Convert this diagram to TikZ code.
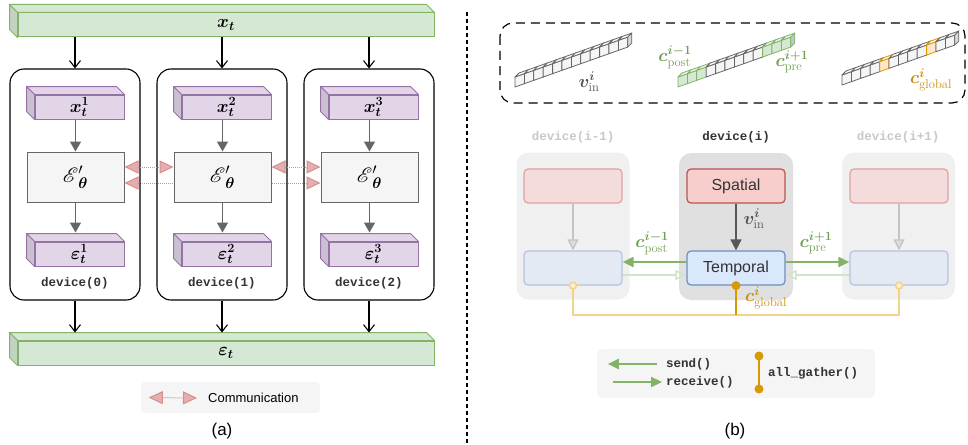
\RequirePackage{fix-cm}
\documentclass[tikz,border=0pt]{standalone}
\usepackage{amsmath}
\usepackage{bm}
\usepackage{mathrsfs}
\usepackage{fontspec}
\setsansfont{Liberation Sans}
\setmonofont{Liberation Mono}
\usetikzlibrary{arrows.meta,positioning}

\definecolor{barfill}{HTML}{D5E8D4}
\definecolor{barline}{HTML}{82B366}
\definecolor{barside}{HTML}{C2D4C1}
\definecolor{latfill}{HTML}{E1D5E7}
\definecolor{latline}{HTML}{9673A6}
\definecolor{latside}{HTML}{CBC0D1}
\definecolor{encfill}{HTML}{F5F5F5}
\definecolor{encline}{HTML}{666666}
\definecolor{commcol}{HTML}{D98C8C}
\definecolor{spfill}{HTML}{F8CECC}
\definecolor{spline}{HTML}{B85450}
\definecolor{tpfill}{HTML}{DAE8FC}
\definecolor{tpline}{HTML}{6C8EBF}
\definecolor{fadespfill}{HTML}{F4DCDC}
\definecolor{fadespline}{HTML}{DDA3A1}
\definecolor{fadetpfill}{HTML}{E3EAF4}
\definecolor{fadetpline}{HTML}{B2C4DE}
\definecolor{sidebg}{HTML}{F0F0F0}
\definecolor{midbg}{HTML}{E0E0E0}
\definecolor{gathcol}{HTML}{D79B00}
\definecolor{gathfill}{HTML}{FFE6CC}
\definecolor{fadegath}{HTML}{F2D38A}
\definecolor{sendcol}{HTML}{82B366}
\definecolor{fadesend}{HTML}{D2E3CA}
\definecolor{fadearr}{HTML}{C4C4C4}
\definecolor{fadelbl}{HTML}{C8C8C8}
\definecolor{labgreen}{HTML}{6E9F4F}
\definecolor{laborange}{HTML}{C98F0A}
\definecolor{devtext}{HTML}{333333}

\pgfdeclarelayer{bg}
\pgfsetlayers{bg,main}

\newcommand{\slab}[5]{%
  \node[draw=#4line, fill=#4fill, line width=1pt, minimum width=#3, minimum height=24pt,
        inner sep=0pt, font=\fontsize{18}{20}\selectfont] (#1) at (#2) {#5};
  \filldraw[draw=#4line, fill=#4fill, line width=1pt, line join=round]
    (#1.north west) -- ++(-8pt,8pt) -- ([shift={(-8pt,8pt)}]#1.north east) -- (#1.north east) -- cycle;
  \filldraw[draw=#4line, fill=#4side, line width=1pt, line join=round]
    (#1.north west) -- ++(-8pt,8pt) -- ([shift={(-8pt,8pt)}]#1.south west) -- (#1.south west) -- cycle;
}

\newcommand{\cube}[3]{%
  \begin{scope}[shift={(#1)}, line width=.8pt, line join=round]
    \filldraw[fill=#2, draw=#3] (0,0) -- (9.4,-3.33) -- (9.4,-13.33) -- (0,-10) -- cycle;
    \filldraw[fill=#2!45!white, draw=#3] (0,-10) -- (9.4,-13.33) -- (13.4,-17.33) -- (4,-14) -- cycle;
    \filldraw[fill=#2!88!black, draw=#3] (9.4,-3.33) -- (13.4,-7.33) -- (13.4,-17.33) -- (9.4,-13.33) -- cycle;
  \end{scope}}

\begin{document}
\begin{tikzpicture}[x=1pt, y=-1pt,
    dev/.style={draw, rounded corners=14pt, line width=1.1pt, minimum width=130pt, minimum height=231pt},
    enc/.style={draw=encline, fill=encfill, line width=1pt, minimum width=97pt, minimum height=50pt,
                font=\fontsize{22}{24}\selectfont},
    mono/.style={font=\fontsize{12.5}{14}\selectfont\ttfamily\bfseries, text=devtext, inner sep=0pt},
    mth/.style={font=\fontsize{18}{20}\selectfont, inner sep=0pt},
    sans/.style={font=\fontsize{#1}{#1}\selectfont\sffamily, inner sep=0pt},
    blk/.style={-{Straight Barb[length=7pt,width=11pt]}, line width=1.1pt},
    gry/.style={-{Triangle[length=10pt,width=11pt]}, draw=encline, line width=1.5pt},
    comm/.style={{Triangle[length=14pt,width=13pt,fill=commcol!70]}-{Triangle[length=14pt,width=13pt,fill=commcol!70]},
                 draw=commcol, densely dotted, line width=1pt},
    devbg/.style={rounded corners=12pt, minimum width=113pt, minimum height=147pt},
    blk2/.style={rounded corners=4pt, line width=1.2pt, minimum width=98pt, minimum height=34pt,
                 font=\fontsize{16}{18}\selectfont\sffamily, text=devtext},
    darr/.style={-{Triangle[length=11pt,width=11pt]}, draw=encline!85!black, line width=1.6pt},
    farr/.style={-{Triangle[length=11pt,width=11pt,fill=fadearr!60]}, draw=fadearr, line width=1.3pt},
    send/.style={-{Triangle[length=11pt,width=10pt]}, draw=sendcol, line width=2.2pt},
    recv/.style={-{Triangle[length=11pt,width=10pt,open]}, draw=fadesend, line width=1.5pt},
    gath/.style={draw=gathcol, line width=2pt},
    gathf/.style={draw=fadegath, line width=1.5pt}
  ]
  \useasboundingbox (0,0) rectangle (968,444);

  % (a)
  \slab{xt}{226,25}{416pt}{bar}{$\bm{x}_{\bm{t}}$}
  \slab{et}{226,353}{416pt}{bar}{$\bm{\varepsilon}_{\bm{t}}$}
  \foreach \i/\c/\n in {1/75/0,2/222/1,3/369/2}{
    \node[dev] (d\i) at (\c,184.5) {};
    \slab{x\i}{\c+4.5,107}{89pt}{lat}{$\bm{x}^{\bm{\i}}_{\bm{t}}$}
    \node[enc] (e\i) at (\c+0.5,177) {$\bm{\mathscr{E}}'_{\bm{\theta}}$};
    \slab{eps\i}{\c+4.5,254}{89pt}{lat}{$\bm{\varepsilon}^{\bm{\i}}_{\bm{t}}$}
    \node[mono] (dl\i) at (\c,283) {device(\n)};
    \draw[blk] (xt.south -| d\i.north) -- (d\i.north);
    \draw[gry] (x\i.south -| e\i.north) -- (e\i.north);
    \draw[gry] (e\i.south) -- ([yshift=9pt]eps\i.north -| e\i.south);
    \draw[blk] (d\i.south) -- ([yshift=8pt]et.north -| d\i.south);
  }
  \draw[comm] ([yshift=10pt]e1.east) -- ([yshift=10pt]e2.west);
  \draw[comm] ([yshift=10pt]e2.east) -- ([yshift=10pt]e3.west);
  \begin{pgfonlayer}{bg}
    \draw[comm] ([yshift=-6pt]e1.east) -- ([yshift=-6pt]e3.west);
  \end{pgfonlayer}

  \node[fill=encfill, rounded corners=4pt, minimum width=179pt, minimum height=31pt] (lega) at (230.5,397.5) {};
  \node[sans=13, anchor=west] (commtxt) at (208,398) {Communication};
  \draw[comm] ([xshift=8pt]lega.west) -- ([xshift=-11pt]commtxt.west);
  \node[sans=17] (capa) at (222,431) {(a)};

  \draw[line width=1.3pt, dash pattern=on 4pt off 3pt] (467,12) -- (467,444);

  % (b)
  \draw[line width=1.2pt, dash pattern=on 9pt off 6pt, rounded corners=13pt] (500,23) rectangle (965,103);
  \foreach \k in {0,...,11}{
    \pgfmathsetmacro\px{515+9.4*\k}
    \pgfmathsetmacro\py{87-3.33*\k}
    \cube{\px,\py}{encfill}{encline}
  }
  \foreach \k in {0,...,11}{
    \pgfmathsetmacro\px{678+9.4*\k}
    \pgfmathsetmacro\py{87-3.33*\k}
    \ifnum\k<3 \def\tf{barfill}\def\tl{barline}\else
      \ifnum\k>8 \def\tf{barfill}\def\tl{barline}\else
        \def\tf{encfill}\def\tl{encline}\fi\fi
    \cube{\px,\py}{\tf}{\tl}
  }
  \foreach \k in {0,...,11}{
    \pgfmathsetmacro\px{842+9.4*\k}
    \pgfmathsetmacro\py{85-3.33*\k}
    \def\tf{encfill}\def\tl{encline}
    \ifnum\k=4 \def\tf{gathfill}\def\tl{gathcol}\fi
    \ifnum\k=9 \def\tf{gathfill}\def\tl{gathcol}\fi
    \cube{\px,\py}{\tf}{\tl}
  }
  \node[mth, text=encline!80!black] (vtok) at (589,82) {$\bm{v}^{\bm{i}}_{\mathrm{in}}$};
  \node[mth, text=labgreen] (cposttok) at (675,57) {$\bm{c}^{\bm{i-1}}_{\mathrm{post}}$};
  \node[mth, text=labgreen] (cpretok) at (792,62) {$\bm{c}^{\bm{i+1}}_{\mathrm{pre}}$};
  \node[mth, text=laborange] (cgtok) at (931,80) {$\bm{c}^{\bm{i}}_{\mathrm{global}}$};

  \node[devbg, fill=sidebg] (gl) at (573,226) {};
  \node[devbg, fill=midbg, minimum width=114pt] (gm) at (736,226.5) {};
  \node[devbg, fill=sidebg] (gr) at (898.5,226) {};
  \node[mono, text=fadelbl] (dll) at (573,137) {device(i-1)};
  \node[mono] (dlm) at (736,137) {device(i)};
  \node[mono, text=fadelbl] (dlr) at (898,137) {device(i+1)};

  \node[blk2, draw=fadespline, fill=fadespfill] (sl) at (573,186) {};
  \node[blk2, draw=spline, fill=spfill] (sm) at (736,186) {Spatial};
  \node[blk2, draw=fadespline, fill=fadespfill] (sr) at (899,186) {};
  \node[blk2, draw=fadetpline, fill=fadetpfill] (tl) at (573,268) {};
  \node[blk2, draw=tpline, fill=tpfill] (tm) at (736,268) {Temporal};
  \node[blk2, draw=fadetpline, fill=fadetpfill] (tr) at (899,268) {};

  \draw[farr] (sl) -- (tl);
  \draw[farr] (sr) -- (tr);
  \draw[darr] (sm) -- (tm);
  \node[mth, text=encline!80!black] (vin) at (754,219) {$\bm{v}^{\bm{i}}_{\mathrm{in}}$};

  \draw[send] ([yshift=6pt]tm.west) -- ([yshift=6pt]tl.east);
  \draw[send] ([yshift=6pt]tm.east) -- ([yshift=6pt]tr.west);
  \draw[recv] ([yshift=-7pt]tl.east) -- ([yshift=-7pt]tm.west);
  \draw[recv] ([yshift=-7pt]tr.west) -- ([yshift=-7pt]tm.east);
  \node[mth, text=labgreen] (cpost) at (652,243) {$\bm{c}^{\bm{i-1}}_{\mathrm{post}}$};
  \node[mth, text=labgreen] (cpre) at (816,243) {$\bm{c}^{\bm{i+1}}_{\mathrm{pre}}$};

  \coordinate (bus) at (736,315);
  \draw[gathf] (tl.south) -- (tl.south |- bus) -- (tr.south |- bus) -- (tr.south);
  \draw[gathf, fill=fadegath!40] (tl.south) circle[radius=3.5pt];
  \draw[gathf, fill=fadegath!40] (tr.south) circle[radius=3.5pt];
  \draw[gath] (tm.south) -- (bus);
  \fill[gathcol] (tm.south) circle[radius=4.5pt];
  \node[mth, text=laborange] (cglob) at (766,298) {$\bm{c}^{\bm{i}}_{\mathrm{global}}$};

  \node[fill=encfill, rounded corners=6pt, minimum width=278pt, minimum height=49pt] (legb) at (736,373.5) {};
  \node[mono, anchor=west] (sendtxt) at (666,364) {send()};
  \node[mono, anchor=west] (recvtxt) at (666,382) {receive()};
  \draw[send] ([xshift=-9pt]sendtxt.west) -- ([xshift=11pt]legb.west |- sendtxt.west);
  \draw[send] ([xshift=16pt]legb.west |- recvtxt.west) -- ([xshift=-4pt]recvtxt.west);
  \coordinate (ga) at (759,356);
  \coordinate (gb) at (759,389);
  \draw[gath] (ga) -- (gb);
  \fill[gathcol] (ga) circle[radius=4.5pt] (gb) circle[radius=4.5pt];
  \node[mono, anchor=west] (gathtxt) at (768,373) {all\_gather()};
  \node[sans=17] (capb) at (735,431) {(b)};
\end{tikzpicture}
\end{document}
